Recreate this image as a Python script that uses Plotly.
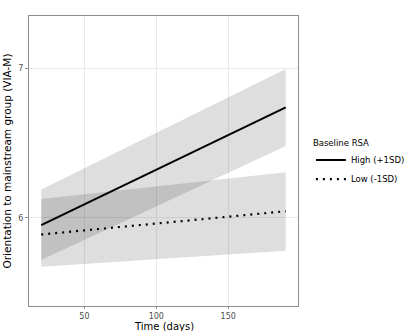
import plotly.graph_objects as go

time_days = [20, 190]
high_fit = [5.953, 6.738]
high_lower = [5.72, 6.48]
high_upper = [6.19, 6.993]
low_fit = [5.89, 6.045]
low_lower = [5.675, 5.782]
low_upper = [6.127, 6.305]

band_color = "rgba(0,0,0,0.13)"
font_family = "DejaVu Sans, Liberation Sans, sans-serif"

fig = go.Figure()

def add_band(lower, upper):
    fig.add_trace(go.Scatter(x=time_days, y=lower, mode="lines",
                             line=dict(width=0), showlegend=False, hoverinfo="skip"))
    fig.add_trace(go.Scatter(x=time_days, y=upper, mode="lines",
                             line=dict(width=0), fill="tonexty", fillcolor=band_color,
                             showlegend=False, hoverinfo="skip"))

add_band(high_lower, high_upper)
add_band(low_lower, low_upper)

fig.add_trace(go.Scatter(x=time_days, y=high_fit, mode="lines", name="High (+1SD)",
                         line=dict(color="black", width=2)))
fig.add_trace(go.Scatter(x=time_days, y=low_fit, mode="lines", name="Low (-1SD)",
                         line=dict(color="black", width=2.2, dash="2px,5px")))

axis_common = dict(showline=True, mirror=True, linecolor="#8c8c8c", linewidth=1,
                   ticks="outside", tickcolor="#8c8c8c",
                   showgrid=True, gridcolor="#ebebeb", gridwidth=1, zeroline=False,
                   automargin=False,
                   tickfont=dict(size=8, color="#4d4d4d", family=font_family))

fig.update_layout(
    width=408, height=331,
    margin=dict(l=29, r=110, t=16, b=25, autoexpand=False),
    paper_bgcolor="white", plot_bgcolor="white",
    font=dict(family=font_family, color="black"),
    xaxis=dict(range=[11.5, 198.5], tickvals=[50, 100, 150], ticklen=2, **axis_common),
    yaxis=dict(range=[5.413, 7.347], tickvals=[6, 7], ticklen=3,
               title=dict(text="Orientation to mainstream group (VIA-M)", font=dict(size=10.5), standoff=4),
               **axis_common),
    legend=dict(xref="container", x=0.762, xanchor="left",
                yref="container", y=0.503, yanchor="middle",
                title=dict(text="Baseline RSA", font=dict(size=8.5)),
                font=dict(size=8.5), itemwidth=30, tracegroupgap=0,
                traceorder="normal",
                bgcolor="rgba(0,0,0,0)"),
    annotations=[dict(text="Time (days)", xref="paper", yref="paper", x=0.5, y=-0.0715,
                      xanchor="center", yanchor="middle", showarrow=False,
                      font=dict(size=10, color="black"))],
)

fig.write_html("out.html")
